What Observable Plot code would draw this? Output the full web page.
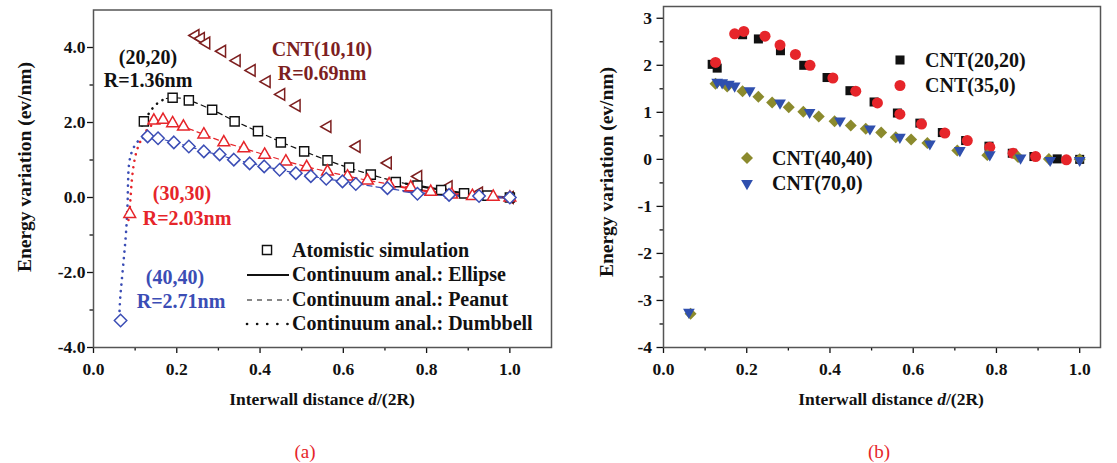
<!DOCTYPE html>
<html><head><meta charset="utf-8">
<script src="https://cdn.jsdelivr.net/npm/d3@7"></script>
<script src="https://cdn.jsdelivr.net/npm/@observablehq/plot@0.6"></script>
<style>
body{margin:0;background:#fff;}
#wrap{position:relative;width:1117px;height:463px;overflow:hidden;background:#fff;}
</style></head><body><div id="wrap"></div>
<script>
// ---------- tick values ----------
const xTicks = [0, 0.2, 0.4, 0.6, 0.8, 1.0];
const xMinor = [0.1, 0.3, 0.5, 0.7, 0.9];
const yTicksA = [-4, -2, 0, 2, 4];
const yMinorA = [-3, -1, 1, 3];
const yTicksB = [-4, -3, -2, -1, 0, 1, 2, 3];
const yMinorB = [-3.5, -2.5, -1.5, -0.5, 0.5, 1.5, 2.5];

// ---------- panel (a): atomistic simulation points ----------
const a_cnt1010 = [[0.245,4.32],[0.258,4.24],[0.271,4.12],[0.309,3.9],[0.344,3.65],[0.38,3.39],[0.416,3.09],[0.451,2.75],[0.488,2.45],[0.562,1.89],[0.632,1.36],[0.707,0.92],[0.78,0.56],[0.853,0.29],[0.926,0.12],[1.0,0]];
const a_cnt2020 = [[0.121,2.03],[0.19,2.66],[0.229,2.59],[0.285,2.34],[0.339,2.03],[0.395,1.77],[0.45,1.47],[0.506,1.23],[0.562,0.99],[0.614,0.8],[0.666,0.61],[0.726,0.41],[0.778,0.32],[0.835,0.2],[0.89,0.11],[0.946,0.05],[1.0,0]];
const a_cnt3030 = [[0.087,-0.44],[0.145,2.05],[0.167,2.07],[0.19,1.98],[0.216,1.89],[0.265,1.68],[0.313,1.47],[0.361,1.31],[0.411,1.14],[0.462,0.96],[0.512,0.81],[0.562,0.69],[0.61,0.56],[0.658,0.45],[0.71,0.35],[0.762,0.27],[0.81,0.15],[0.86,0.08],[0.91,0.04],[0.96,0.02],[1.0,0]];
const a_cnt4040 = [[0.065,-3.28],[0.13,1.63],[0.155,1.58],[0.193,1.47],[0.229,1.36],[0.265,1.23],[0.303,1.15],[0.337,1.01],[0.375,0.91],[0.41,0.83],[0.447,0.74],[0.486,0.65],[0.522,0.57],[0.559,0.5],[0.598,0.43],[0.63,0.36],[0.706,0.25],[0.778,0.1],[0.854,0.07],[0.926,0.04],[1.0,0]];

// ---------- panel (a): continuum analysis curves ----------
const blackDumbbell = [[0.117,1.92],[0.128,2.15],[0.142,2.38],[0.158,2.55],[0.175,2.64]];
const blackPeanut = [[0.175,2.64],[0.2,2.66],[0.229,2.59],[0.285,2.34],[0.339,2.04],[0.395,1.76],[0.45,1.48],[0.506,1.23],[0.562,0.99],[0.614,0.79],[0.666,0.61],[0.726,0.43],[0.778,0.31]];
const blackEllipse = [[0.75,0.37],[0.8,0.27],[0.85,0.18],[0.9,0.1],[0.95,0.04],[1.0,0]];
const redDumbbell = [[0.084,-0.6],[0.087,-0.3],[0.089,0.0],[0.092,0.45],[0.097,0.9],[0.104,1.25],[0.115,1.55],[0.128,1.8],[0.145,1.98]];
const redPeanut = [[0.145,1.98],[0.167,2.03],[0.19,1.98],[0.216,1.89],[0.265,1.68],[0.313,1.48],[0.361,1.31],[0.411,1.14],[0.462,0.97],[0.512,0.82],[0.562,0.69],[0.61,0.57],[0.658,0.46],[0.71,0.36],[0.76,0.27]];
const redEllipse = [[0.74,0.28],[0.8,0.17],[0.85,0.11],[0.9,0.06],[0.95,0.02],[1.0,0]];
const blueDumbbell = [[0.062,-3.2],[0.064,-2.7],[0.068,-2.2],[0.073,-1.6],[0.077,-1.1],[0.08,-0.6],[0.082,-0.1],[0.083,0.4],[0.085,0.85],[0.09,1.15],[0.1,1.4],[0.113,1.56],[0.13,1.63]];
const bluePeanut = [[0.13,1.63],[0.155,1.58],[0.193,1.47],[0.229,1.36],[0.265,1.24],[0.303,1.13],[0.337,1.02],[0.375,0.92],[0.41,0.83],[0.447,0.74],[0.486,0.65],[0.522,0.57],[0.559,0.5],[0.598,0.43],[0.63,0.37],[0.706,0.24],[0.76,0.16]];
const blueEllipse = [[0.745,0.17],[0.8,0.1],[0.85,0.06],[0.9,0.03],[0.95,0.01],[1.0,0]];

// ---------- panel (b) ----------
const b_cnt2020 = [[0.117,2.02],[0.129,1.94],[0.19,2.65],[0.228,2.56],[0.281,2.31],[0.337,2.0],[0.393,1.74],[0.448,1.46],[0.506,1.22],[0.562,0.985],[0.616,0.77],[0.67,0.57],[0.726,0.4],[0.782,0.28],[0.838,0.13],[0.89,0.06],[0.946,0.01],[1.0,0]];
const b_cnt350 = [[0.125,2.06],[0.171,2.67],[0.193,2.72],[0.244,2.62],[0.28,2.43],[0.317,2.23],[0.352,2.0],[0.407,1.73],[0.462,1.45],[0.514,1.2],[0.568,0.96],[0.62,0.75],[0.676,0.56],[0.73,0.4],[0.784,0.26],[0.84,0.13],[0.894,0.06],[0.968,-0.01]];
const b_cnt4040 = [[0.065,-3.28],[0.125,1.61],[0.153,1.55],[0.19,1.45],[0.228,1.33],[0.261,1.21],[0.301,1.11],[0.336,1.01],[0.373,0.91],[0.411,0.81],[0.45,0.72],[0.486,0.65],[0.523,0.57],[0.558,0.47],[0.595,0.42],[0.634,0.35],[0.706,0.19],[0.778,0.09],[0.852,0.05],[0.926,0.01],[1.0,0]];
const b_cnt700 = [[0.061,-3.25],[0.129,1.64],[0.141,1.63],[0.157,1.6],[0.171,1.56],[0.207,1.46],[0.28,1.2],[0.351,1.0],[0.424,0.82],[0.496,0.65],[0.568,0.47],[0.64,0.33],[0.712,0.19],[0.784,0.1],[0.858,0.03],[0.929,-0.02],[1.0,-0.02]];

// ---------- labels ----------
const legendA = ["Atomistic simulation", "Continuum anal.: Ellipse", "Continuum anal.: Peanut", "Continuum anal.: Dumbbell"];
const legendB = ["CNT(20,20)", "CNT(35,0)", "CNT(40,40)", "CNT(70,0)"];
const xTitle = ["Interwall distance ", "d", "/(2R)"];
const yTitle = "Energy variation (ev/nm)";

// ---------- styles ----------
const FONT = '"Liberation Serif","Times New Roman",serif';
const C = {black:"#111", red:"#e6252a", blue:"#3b4db5", darkred:"#7d1f1f", olive:"#8b8a2d", blueTri:"#2f4fae"};
const pts = arr => arr.map(([x, y]) => ({x, y}));
const s3 = Math.sqrt(3);
const leftTri = {draw(ctx, size){ const r = Math.sqrt(size)*0.6824, t = r/2, u = r*s3/2; ctx.moveTo(-r,0); ctx.lineTo(t,-u); ctx.lineTo(t,u); ctx.closePath(); }};
const downTri = {draw(ctx, size){ const r = Math.sqrt(size)*0.6824, t = r/2, u = r*s3/2; ctx.moveTo(0,r); ctx.lineTo(u,-t); ctx.lineTo(-u,-t); ctx.closePath(); }};
const fmt1 = d => d.toFixed(1);
const fmt0 = d => String(d);
const dotted = {strokeDasharray:"0.1,6.5", strokeLinecap:"round", strokeWidth:2.6};
const dashed = {strokeDasharray:"5,4", strokeWidth:1.2};
const solid = {strokeWidth:2.2};
const ln = (data, color, st) => Plot.line(pts(data), {x:"x", y:"y", stroke:color, curve:"catmull-rom", ...st});

const axisStyle = {fontFamily: FONT, fontSize: "17.5px", fontWeight: "bold", color: "#111", background: "transparent", overflow: "visible"};

const plotA = Plot.plot({
  width: 560, height: 380,
  marginLeft: 93, marginRight: 9, marginTop: 9.5, marginBottom: 33,
  x: {domain: [0, 1.1]}, y: {domain: [-4, 5]},
  style: axisStyle,
  marks: [
    Plot.axisX(xTicks, {tickSize: 6, tickPadding: 9, tickFormat: fmt1, label: null, strokeWidth: 1.3}),
    Plot.axisX(xMinor, {tickSize: 3.5, tickFormat: () => "", label: null, strokeWidth: 1.3}),
    Plot.axisY(yTicksA, {tickSize: 6, tickPadding: 2, tickFormat: fmt1, label: null, strokeWidth: 1.3}),
    Plot.axisY(yMinorA, {tickSize: 3.5, tickFormat: () => "", label: null, strokeWidth: 1.3}),
    ln(blueDumbbell, C.blue, dotted), ln(redDumbbell, C.red, dotted), ln(blackDumbbell, C.black, dotted),
    ln(bluePeanut, C.blue, dashed), ln(redPeanut, C.red, dashed), ln(blackPeanut, C.black, dashed),
    ln(blackEllipse, C.black, solid), ln(redEllipse, C.red, solid), ln(blueEllipse, C.blue, solid),
    Plot.dot(pts(a_cnt1010), {x:"x", y:"y", symbol: leftTri, r: 5.6, stroke: C.darkred, strokeWidth: 1.5, fill: "white"}),
    Plot.dot(pts(a_cnt2020), {x:"x", y:"y", symbol: "square2", r: 5.8, stroke: C.black, strokeWidth: 1.4, fill: "white"}),
    Plot.dot(pts(a_cnt3030), {x:"x", y:"y", symbol: "triangle2", r: 5.6, stroke: C.red, strokeWidth: 1.5, fill: "white"}),
    Plot.dot(pts(a_cnt4040), {x:"x", y:"y", symbol: "diamond2", r: 5.6, stroke: C.blue, strokeWidth: 1.5, fill: "white"}),
    Plot.frame({stroke: "#555", strokeWidth: 1.5})
  ]
});

const plotB = Plot.plot({
  width: 557, height: 380,
  marginLeft: 103, marginRight: 17, marginTop: 6, marginBottom: 33,
  x: {domain: [0, 1.05]}, y: {domain: [-4, 3.25]},
  style: axisStyle,
  marks: [
    Plot.axisX(xTicks, {tickSize: 6, tickPadding: 9, tickFormat: fmt1, label: null, strokeWidth: 1.3}),
    Plot.axisX(xMinor, {tickSize: 3.5, tickFormat: () => "", label: null, strokeWidth: 1.3}),
    Plot.axisY(yTicksB, {tickSize: 6.5, tickPadding: 5, tickFormat: fmt0, label: null, strokeWidth: 1.3}),
    Plot.axisY(yMinorB, {tickSize: 3.5, tickFormat: () => "", label: null, strokeWidth: 1.3}),
    Plot.dot(pts(b_cnt2020), {x:"x", y:"y", symbol: "square", r: 5.1, fill: C.black}),
    Plot.dot(pts(b_cnt350), {x:"x", y:"y", symbol: "circle", r: 5.5, fill: C.red}),
    Plot.dot(pts(b_cnt4040), {x:"x", y:"y", symbol: "diamond2", r: 5.4, fill: C.olive}),
    Plot.dot(pts(b_cnt700), {x:"x", y:"y", symbol: downTri, r: 5.6, fill: C.blueTri}),
    Plot.frame({stroke: "#555", strokeWidth: 1.5})
  ]
});

const wrap = document.getElementById("wrap");
for (const [p, left] of [[plotA, 0], [plotB, 560]]) {
  p.style.position = "absolute"; p.style.left = left + "px"; p.style.top = "0px";
  wrap.appendChild(p);
}

// ---------- overlay: annotations, legends, titles ----------
const ov = d3.select(wrap).append("svg").attr("width", 1117).attr("height", 463)
  .style("position", "absolute").style("left", 0).style("top", 0)
  .attr("font-family", FONT).attr("font-weight", "bold");

function txt(s, x, y, opts = {}) {
  return ov.append("text").attr("x", x).attr("y", y).text(s)
    .attr("font-size", opts.size || 20).attr("fill", opts.color || C.black)
    .attr("text-anchor", opts.anchor || "middle")
    .attr("font-weight", opts.weight || "bold");
}
// panel (a) annotations
txt("(20,20)", 148, 64); txt("R=1.36nm", 148, 87);
txt("CNT(10,10)", 322, 56, {color: C.darkred}); txt("R=0.69nm", 322, 80, {color: C.darkred});
txt("(30,30)", 182, 200, {color: C.red}); txt("R=2.03nm", 187, 225, {color: C.red});
txt("(40,40)", 175, 284, {color: C.blue}); txt("R=2.71nm", 181, 308, {color: C.blue});

// panel (a) legend
const sym = (type, r) => d3.symbol(type, Math.PI * r * r)();
ov.append("path").attr("d", sym(d3.symbolSquare2, 5.8)).attr("transform", "translate(267,250)")
  .attr("fill", "white").attr("stroke", C.black).attr("stroke-width", 1.4);
txt(legendA[0], 292, 257, {anchor: "start"});
const legDotted = {strokeDasharray:"0.1,10", strokeLinecap:"round", strokeWidth:2.6};
const legDashed = {strokeDasharray:"5,5", strokeWidth:1.2};
const legLines = [[275, solid], [300, legDashed], [324, legDotted]];
legLines.forEach(([y, st], i) => {
  const l = ov.append("line").attr("x1", 247).attr("x2", 289).attr("y1", y).attr("y2", y)
    .attr("stroke", C.black).attr("stroke-width", st.strokeWidth);
  if (st.strokeDasharray) l.attr("stroke-dasharray", st.strokeDasharray);
  if (st.strokeLinecap) l.attr("stroke-linecap", st.strokeLinecap);
  txt(legendA[i + 1], 292, y + 6, {anchor: "start"});
});

// panel (b) legend
const legB = [
  [900, 60, sym(d3.symbolSquare, 5.1), C.black],
  [900, 85.5, sym(d3.symbolCircle, 5.5), C.red],
  [747, 158, sym(d3.symbolDiamond2, 5.4), C.olive],
  [747, 183.5, d3.symbol(downTri, Math.PI * 5.6 * 5.6)(), C.blueTri]
];
legB.forEach(([x, y, d, c], i) => {
  ov.append("path").attr("d", d).attr("transform", `translate(${x},${y})`).attr("fill", c);
  txt(legendB[i], x + 25, y + 6.5, {anchor: "start"});
});

// axis titles
for (const cx of [322, 891]) {
  const t = ov.append("text").attr("x", cx).attr("y", 405).attr("text-anchor", "middle")
    .attr("font-size", 17.5).attr("fill", C.black);
  t.append("tspan").text(xTitle[0]);
  t.append("tspan").attr("font-style", "italic").text(xTitle[1]);
  t.append("tspan").text(xTitle[2]);
}
for (const [cx, cy] of [[25, 167], [607, 172]]) {
  ov.append("text").attr("transform", `translate(${cx + 6},${cy}) rotate(-90)`)
    .attr("text-anchor", "middle").attr("font-size", 19.5).attr("fill", C.black).text(yTitle);
}
// panel letters
txt("(a)", 305, 458, {color: C.red, weight: "normal", size: 19});
txt("(b)", 879, 458, {color: C.red, weight: "normal", size: 19});
</script></body></html>
